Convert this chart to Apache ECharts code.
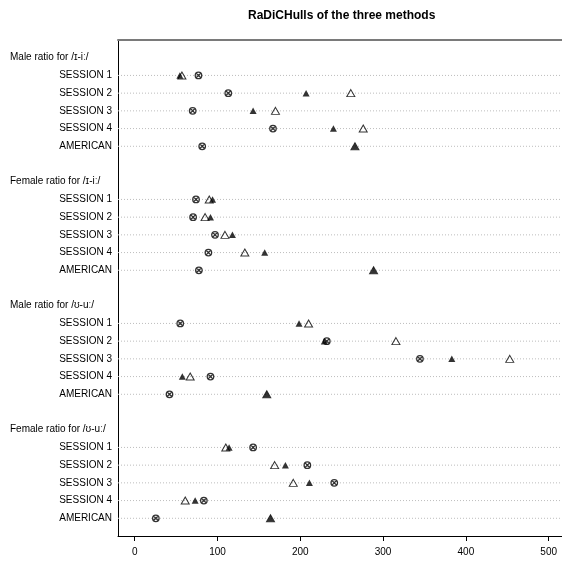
<!DOCTYPE html>
<html>
<head>
<meta charset="utf-8">
<script src="https://cdn.jsdelivr.net/npm/echarts@6/dist/echarts.min.js"></script>
<style>
  html, body { margin: 0; padding: 0; background: #fff; }
  #chart { width: 562px; height: 562px; }
</style>
</head>
<body>
<div id="chart"></div>
<script>
// group headers and row names
var groups = ['Male ratio for /ɪ-iː/', 'Female ratio for /ɪ-iː/', 'Male ratio for /ʊ-uː/', 'Female ratio for /ʊ-uː/'];
var rowNames = ['SESSION 1', 'SESSION 2', 'SESSION 3', 'SESSION 4', 'AMERICAN'];
var xTicks = [0, 100, 200, 300, 400, 500];

// values per group (S1..S4, AMERICAN)
var crossCircle = [
  [77, 113, 70, 167, 81.5],
  [74, 70.5, 97, 89, 77.5],
  [55, 232, 344.5, 91.5, 42],
  [143, 208.5, 241, 83.5, 25.5]
];
var filledTri = [
  [54.5, 207, 143, 240, 266],
  [94, 91.5, 118, 157, 288.5],
  [198.5, 229, 383, 57.5, 159.5],
  [114, 182, 211, 73, 164]
];
var openTri = [
  [57, 261, 170, 276, 266],
  [90, 85, 109, 133, 288.5],
  [210, 315.5, 453, 67, 159.5],
  [110, 169, 191.5, 61, 164]
];

var xMin = -20.2, xMax = 516.1;

// build the category rows: blank, then header + 5 rows per group, blank between groups, blank at end
var rowLabels = [''];
var headerLabels = [''];
var dataRows = [];
groups.forEach(function (g, gi) {
  rowLabels.push('');
  headerLabels.push(g);
  rowNames.forEach(function (r) {
    dataRows.push(rowLabels.length);
    rowLabels.push(r);
    headerLabels.push('');
  });
  if (gi < groups.length - 1) {
    rowLabels.push('');
    headerLabels.push('');
  }
});
rowLabels.push('');
headerLabels.push('');

function toPoints(vals) {
  var pts = [];
  vals.forEach(function (gv, gi) {
    gv.forEach(function (v, ri) {
      pts.push([v, dataRows[gi * rowNames.length + ri]]);
    });
  });
  return pts;
}

var chart = echarts.init(document.getElementById('chart'));
var option = {
  animation: false,
  title: {
    text: 'RaDiCHulls of the three methods',
    left: 248,
    top: 10,
    padding: 0,
    textStyle: { fontFamily: 'Liberation Sans', fontSize: 12, fontWeight: 'bold', color: '#000' }
  },
  grid: { left: 118, right: 0, top: 40, bottom: 26 },
  xAxis: [{
    type: 'value',
    min: xMin,
    max: xMax,
    position: 'bottom',
    axisLine: { show: true, onZero: false, lineStyle: { color: '#000', width: 1 } },
    axisTick: { show: true, length: 5, customValues: xTicks, lineStyle: { color: '#000' } },
    axisLabel: { customValues: xTicks, margin: 11, fontFamily: 'Liberation Sans', fontSize: 10, color: '#000' },
    splitLine: { show: false }
  }, {
    type: 'value',
    min: xMin,
    max: xMax,
    position: 'top',
    axisLine: { show: true, onZero: false, lineStyle: { color: '#7a7a7a', width: 2 } },
    axisTick: { show: false },
    axisLabel: { show: false },
    splitLine: { show: false }
  }],
  yAxis: [{
    type: 'category',
    data: rowLabels,
    boundaryGap: false,
    inverse: true,
    axisLine: { show: true, onZero: false, lineStyle: { color: '#000', width: 1 } },
    axisTick: { show: false },
    axisLabel: { interval: 0, margin: 6, fontFamily: 'Liberation Sans', fontSize: 10, color: '#000' },
    splitLine: { show: false }
  }, {
    type: 'category',
    data: headerLabels,
    boundaryGap: false,
    inverse: true,
    position: 'left',
    offset: 0,
    axisLine: { show: false, onZero: false },
    axisTick: { show: false },
    axisLabel: { interval: 0, margin: 108, align: 'left', fontFamily: 'Liberation Sans', fontSize: 10, color: '#000' },
    splitLine: { show: false }
  }],
  series: [{
    // dotted row lines
    type: 'custom',
    silent: true,
    data: dataRows.map(function (r) { return [xMin, r]; }),
    encode: { x: 0, y: 1 },
    renderItem: function (params, api) {
      var row = api.value(1);
      var p1 = api.coord([xMin, row]);
      var p2 = api.coord([xMax, row]);
      return {
        type: 'line',
        shape: { x1: p1[0], y1: p1[1], x2: p2[0], y2: p2[1] },
        style: { stroke: '#bdbdbd', lineWidth: 1, lineDash: [1, 2] }
      };
    }
  }, {
    type: 'scatter',
    name: 'circle',
    symbol: 'path://M10 0A10 10 0 1 1 -10 0A10 10 0 1 1 10 0ZM-7.07 -7.07L7.07 7.07M7.07 -7.07L-7.07 7.07',
    symbolSize: 6.5,
    itemStyle: { color: 'rgba(0,0,0,0)', borderColor: '#000', borderWidth: 1.3 },
    data: toPoints(crossCircle)
  }, {
    type: 'scatter',
    name: 'open',
    symbol: 'triangle',
    symbolSize: [8, 7],
    itemStyle: { color: 'rgba(0,0,0,0)', borderColor: '#000', borderWidth: 1 },
    data: toPoints(openTri)
  }, {
    type: 'scatter',
    name: 'filled',
    symbol: 'triangle',
    symbolSize: [7, 6.5],
    itemStyle: { color: '#000' },
    data: toPoints(filledTri)
  }]
};
chart.setOption(option);
</script>
</body>
</html>
